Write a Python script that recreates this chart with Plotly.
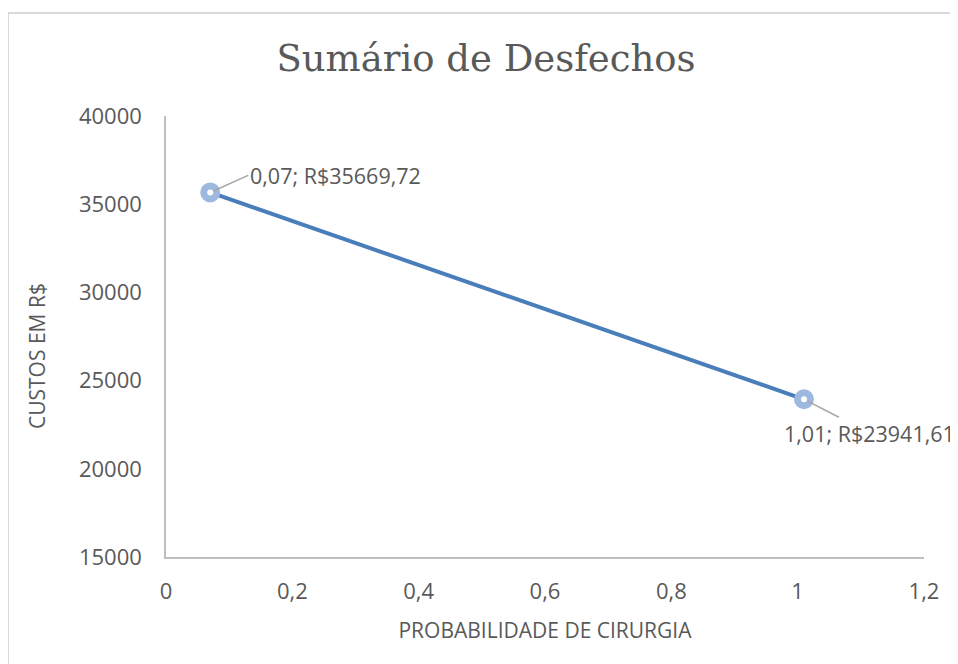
import plotly.graph_objects as go

# Data
prob_cirurgia = [0.07, 1.01]
custos = [35669.72, 23941.61]
x_ticks = [0, 0.2, 0.4, 0.6, 0.8, 1.0, 1.2]
y_ticks = [15000, 20000, 25000, 30000, 35000, 40000]
title_text = "Sumário de Desfechos"
x_title = "PROBABILIDADE DE CIRURGIA"
y_title = "CUSTOS EM R$"


def fmt(v):
    return f"{v:.2f}".replace(".", ",")


labels = [f"{fmt(x)}; R${fmt(y)}" for x, y in zip(prob_cirurgia, custos)]

TXT = "#595959"
AXIS = "#BFBFBF"
TICK_FONT = dict(family="Open Sans", size=22, color=TXT)

# page body has an 8px margin; figure is sized so it fills the window
W, H = 950, 656
L, T, R, B = 158, 108, 34, 107
PH = H - T - B
PW = W - L - R

fig = go.Figure()
fig.add_trace(go.Scatter(
    x=prob_cirurgia, y=custos, mode="lines+markers",
    line=dict(color="#4A7EBB", width=4),
    marker=dict(symbol="circle", size=13, color="white",
                line=dict(color="#9DB9E0", width=7)),
    hoverinfo="skip", showlegend=False,
))

# data labels with leader lines
offsets = [dict(ax=38, ay=-17, xanchor="left"), dict(ax=66, ay=34, xanchor="center")]
for x, y, lab, off in zip(prob_cirurgia, custos, labels, offsets):
    fig.add_annotation(
        x=x, y=y, xref="x", yref="y", text=lab, showarrow=True,
        arrowhead=0, arrowwidth=1.5, arrowcolor="#A6A6A6",
        ax=off["ax"], ay=off["ay"], xanchor=off["xanchor"], yanchor="middle",
        standoff=4, font=dict(family="Open Sans", size=21.5, color=TXT),
    )

# y axis title (placed like the original, slightly below the plot centre)
fig.add_annotation(
    text=y_title, textangle=-90, showarrow=False,
    xref="paper", yref="paper",
    x=(37 - 8 - L) / PW, y=(PH + T - (356 - 8)) / PH,
    xanchor="center", yanchor="middle",
    font=dict(family="Open Sans", size=21, color=TXT),
)

# outer chart frame
fig.add_shape(type="rect", xref="paper", yref="paper",
              x0=-L / PW, x1=1.3, y0=-0.4, y1=(PH + T - 5) / PH,
              line=dict(color="#D9D9D9", width=2), fillcolor="rgba(0,0,0,0)",
              layer="below")

fig.update_layout(
    width=W, height=H,
    margin=dict(l=L, r=R, t=T, b=B),
    paper_bgcolor="white", plot_bgcolor="white",
    separators=",.",
    title=dict(text=title_text, x=(486 - 8) / W, xref="container", xanchor="center",
               y=1 - (58 - 8) / H, yref="container", yanchor="middle",
               font=dict(family="DejaVu Serif", size=37, color=TXT)),
    xaxis=dict(range=[0, 1.2], tickvals=x_ticks, showgrid=False, zeroline=False,
               showline=True, linecolor=AXIS, linewidth=1.5, ticks="",
               ticklabelstandoff=14, tickfont=TICK_FONT,
               title=dict(text=x_title, standoff=19,
                          font=dict(family="Open Sans", size=21, color=TXT))),
    yaxis=dict(range=[15000, 40000], tickvals=y_ticks, tickformat="d",
               showgrid=False, zeroline=False,
               showline=True, linecolor=AXIS, linewidth=1.5, ticks="",
               ticklabelstandoff=18, tickfont=TICK_FONT),
)

fig.write_html("out.html")
